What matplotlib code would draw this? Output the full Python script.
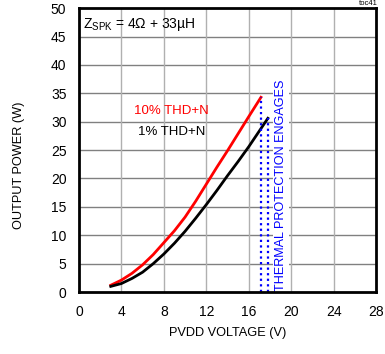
import matplotlib
matplotlib.use("Agg")
import matplotlib.pyplot as plt

plt.rcParams['font.family'] = ['Liberation Sans', 'DejaVu Sans']

# PVDD voltage (V) and output power (W)
v_10 = [3, 4, 5, 6, 7, 8, 9, 10, 11, 12, 13, 14, 15, 16, 17.15]
p_10 = [1.2, 2.1, 3.3, 4.8, 6.6, 8.7, 10.8, 13.2, 16.0, 19.0, 22.0, 24.9, 27.9, 30.9, 34.3]

v_1 = [3, 4, 5, 6, 7, 8, 9, 10, 11, 12, 13, 14, 15, 16, 17.8]
p_1 = [1.0, 1.5, 2.4, 3.5, 5.0, 6.7, 8.6, 10.7, 13.0, 15.4, 17.9, 20.5, 23.0, 25.6, 30.6]

x_ticks = [0, 4, 8, 12, 16, 20, 24, 28]
y_ticks = [0, 5, 10, 15, 20, 25, 30, 35, 40, 45, 50]

fig = plt.figure(figsize=(3.85, 3.54), dpi=100)
ax = fig.add_axes([0.205, 0.175, 0.772, 0.802])

# grid: darker horizontal lines, lighter vertical ones
for y in y_ticks[1:-1]:
    ax.axhline(y, color='#808080', lw=1.0, zorder=1)
for x in x_ticks[1:-1]:
    ax.axvline(x, color='#b0b0b0', lw=1.0, zorder=1)

ax.plot(v_10, p_10, color='#ff0000', lw=2, zorder=3)
ax.plot(v_1, p_1, color='black', lw=2, zorder=3)

# thermal protection markers
ax.plot([v_10[-1], v_10[-1]], [0, p_10[-1]], color='#0000ff', lw=1.6,
        ls=(0, (1, 1.5)), zorder=4)
ax.plot([v_1[-1], v_1[-1]], [0, p_1[-1]], color='#0000ff', lw=1.6,
        ls=(0, (1, 1.5)), zorder=4)

ax.text(19.05, 0.2, 'THERMAL PROTECTION ENGAGES', rotation=90, color='#0000ff',
        fontsize=9.1, ha='center', va='bottom', zorder=5,
        bbox=dict(facecolor='white', edgecolor='none', pad=1.5))

ax.text(0.35, 47.2, r'Z$_{\mathregular{SPK}}$ = 4Ω + 33µH', fontsize=10,
        va='center', ha='left')
ax.text(12.2, 31.8, '10% THD+N', color='#ff0000', fontsize=9.5,
        ha='right', va='center')
ax.text(11.9, 28.2, '1% THD+N', color='black', fontsize=9.5,
        ha='right', va='center')

fig.text(0.982, 0.999, 'toc41', fontsize=5.5, ha='right', va='top')

ax.set_xlim(0, 28)
ax.set_ylim(0, 50)
ax.set_xticks(x_ticks)
ax.set_yticks(y_ticks)
ax.tick_params(length=0, labelsize=10)
ax.tick_params(axis='x', pad=9)
ax.tick_params(axis='y', pad=9)
for s in ax.spines.values():
    s.set_linewidth(2)
    s.set_zorder(6)

ax.set_xlabel('PVDD VOLTAGE (V)', fontsize=9.2, va='center')
ax.xaxis.set_label_coords(0.5, -0.144)
ax.set_ylabel('OUTPUT POWER (W)', fontsize=9.2, va='center')
ax.yaxis.set_label_coords(-0.202, 0.445)

fig.savefig('out.png', dpi=100)
